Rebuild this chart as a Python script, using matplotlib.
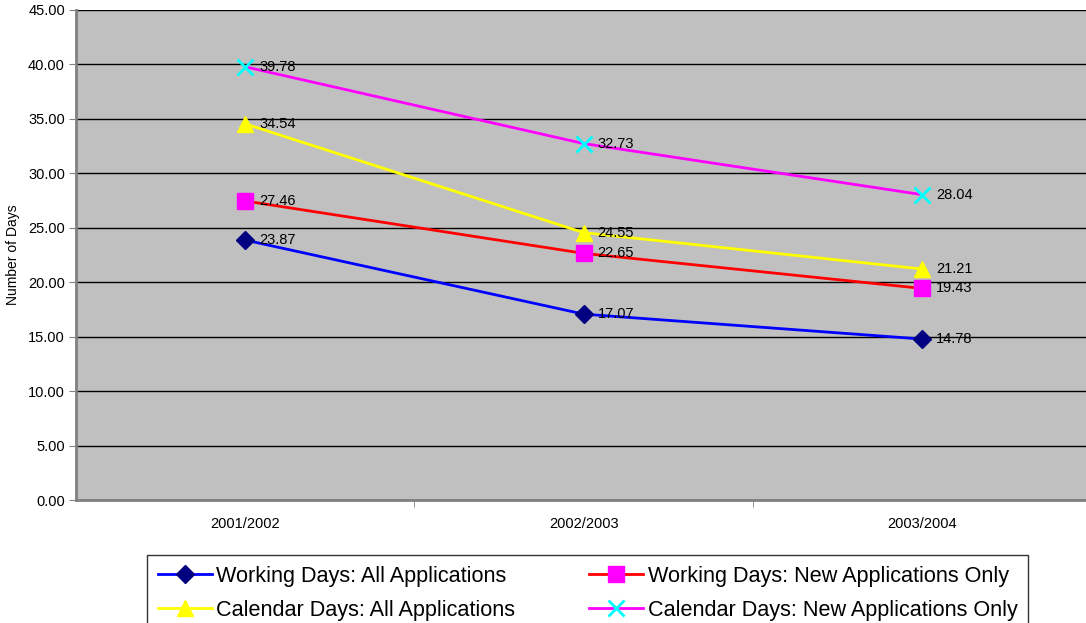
import matplotlib
matplotlib.use("Agg")
import matplotlib.pyplot as plt

plt.rcParams["font.family"] = ["Liberation Sans", "DejaVu Sans"]

YEARS = ["2001/2002", "2002/2003", "2003/2004"]
WORK_ALL = [23.87, 17.07, 14.78]
WORK_NEW = [27.46, 22.65, 19.43]
CAL_ALL = [34.54, 24.55, 21.21]
CAL_NEW = [39.78, 32.73, 28.04]

SERIES = [
    ("Working Days: All Applications", WORK_ALL, "#0000FF", "D", "#000080", 9),
    ("Working Days: New Applications Only", WORK_NEW, "#FF0000", "s", "#FF00FF", 11),
    ("Calendar Days: All Applications", CAL_ALL, "#FFFF00", "^", "#FFFF00", 12),
    ("Calendar Days: New Applications Only", CAL_NEW, "#FF00FF", "x", "#00FFFF", 11),
]

fig = plt.figure(figsize=(10.86, 6.23), dpi=100)
ax = fig.add_axes([0.070, 0.1974, 0.935, 0.7866])
ax.set_facecolor("#C0C0C0")
x = list(range(len(YEARS)))

handles = []
for lab, vals, lc, mk, mc, ms in SERIES:
    h, = ax.plot(x, vals, color=lc, lw=2, marker=mk, ms=ms, mfc=mc, mec=mc,
                 mew=2 if mk == "x" else 1, label=lab, zorder=3)
    handles.append(h)
    for xi, v in zip(x, vals):
        ax.annotate(f"{v:.2f}", (xi, v), xytext=(10, 0), textcoords="offset points",
                    va="center", ha="left", fontsize=10.5, zorder=4)

ax.set_xlim(-0.5, 2.5)
ax.set_ylim(0, 45)
ax.set_yticks(range(0, 46, 5))
ax.set_yticklabels([f"{v:.2f}" for v in range(0, 46, 5)], fontsize=10.5)
ax.set_xticks(x)
ax.set_xticklabels(YEARS, fontsize=10.5)
ax.set_xticks([0.5, 1.5], minor=True)
ax.tick_params(axis="x", which="major", length=0, pad=12)
ax.tick_params(axis="x", which="minor", length=5, color="#808080")
ax.tick_params(axis="y", length=5, color="#808080", pad=3)
ax.yaxis.grid(True, color="black", lw=1)
ax.set_axisbelow(True)
for s in ["top", "right"]:
    ax.spines[s].set_visible(False)
ax.spines["left"].set_color("#808080")
ax.spines["left"].set_linewidth(2)
ax.spines["bottom"].set_color("#808080")
ax.spines["bottom"].set_linewidth(2)
ax.set_ylabel("Number of Days", fontsize=10, labelpad=6)

# reorder for row-wise legend in 2 columns
order = [handles[0], handles[2], handles[1], handles[3]]
leg = fig.legend(handles=order, labels=[h.get_label() for h in order], ncol=2,
                 loc="upper left", bbox_to_anchor=(147 / 1086, 1 - 555 / 623),
                 borderaxespad=0, fontsize=15.6, frameon=True, fancybox=False,
                 edgecolor="black", handlelength=2.5, columnspacing=3.4,
                 borderpad=0.5, labelspacing=0.6, handletextpad=0.2)
leg.get_frame().set_linewidth(1)

fig.savefig("out.png", dpi=100)
